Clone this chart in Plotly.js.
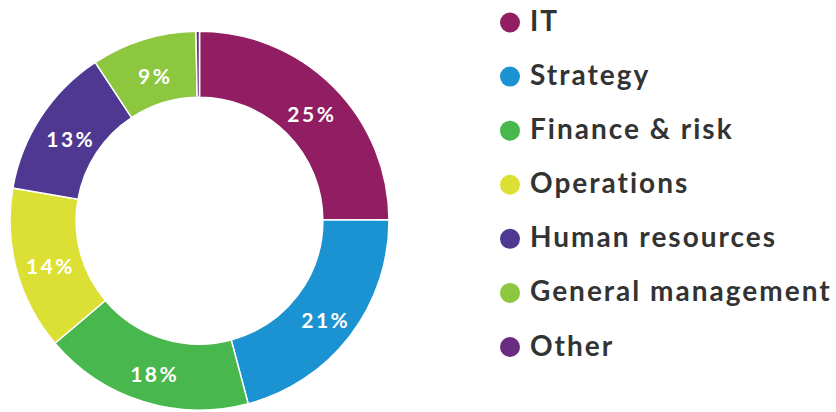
<!DOCTYPE html>
<html>
<head>
<meta charset="utf-8">
<script src="https://cdn.plot.ly/plotly-3.0.1.min.js"></script>
<style>
  html, body { margin: 0; padding: 0; background: #fff; }
  #chart { width: 836px; height: 412px; }
  .slicetext { letter-spacing: 2.5px; translate: 2px 4px; }
  .textpoint text { letter-spacing: 2px; }
</style>
</head>
<body>
<div id="chart"></div>
<script>
// ---- data ----
const categories = ["IT", "Strategy", "Finance & risk", "Operations", "Human resources", "General management", "Other"];
const shares = [25, 21, 18, 14, 13, 9, 0.3];
const sliceLabels = ["25%", "21%", "18%", "14%", "13%", "9%", ""];
const colors = ["#911E62", "#1B92D1", "#48B74D", "#DCE034", "#4E3891", "#8DC63F", "#6A2C80"];

// ---- chart ----
const rowIndex = categories.map((_, i) => i);

const pie = {
  type: "pie",
  labels: categories,
  values: shares,
  text: sliceLabels,
  texttemplate: "%{text}",
  textinfo: "text",
  sort: false,
  direction: "clockwise",
  rotation: 0,
  hole: 0.651,
  textposition: "inside",
  insidetextorientation: "horizontal",
  insidetextfont: { family: "Lato", size: 21, color: "#ffffff", weight: "bold" },
  marker: { colors: colors, line: { color: "#ffffff", width: 1.5 } },
  domain: { x: [10 / 836, 389 / 836], y: [1.8 / 412, 380.8 / 412] },
  showlegend: false,
  hoverinfo: "label+percent"
};

const legendDots = {
  type: "scatter",
  mode: "markers",
  x: rowIndex.map(() => 0),
  y: rowIndex,
  marker: { size: 20, color: colors, symbol: "circle" },
  xaxis: "x",
  yaxis: "y",
  showlegend: false,
  hoverinfo: "skip"
};

const legendText = {
  type: "scatter",
  mode: "text",
  x: rowIndex.map(() => 20),
  y: rowIndex,
  text: categories,
  textposition: "middle right",
  textfont: { family: "Lato", size: 28, color: "#333333", weight: "bold" },
  xaxis: "x",
  yaxis: "y2",
  showlegend: false,
  hoverinfo: "skip"
};

const layout = {
  width: 836,
  height: 412,
  margin: { l: 0, r: 0, t: 0, b: 0, pad: 0 },
  paper_bgcolor: "#ffffff",
  plot_bgcolor: "rgba(0,0,0,0)",
  showlegend: false,
  xaxis: { range: [-510, 326], visible: false, fixedrange: true, domain: [0, 1] },
  yaxis: { range: [7.202, -0.416], visible: false, fixedrange: true, domain: [0, 1] },
  yaxis2: { range: [7.174, -0.4438], visible: false, fixedrange: true, overlaying: "y", domain: [0, 1] }
};

Plotly.newPlot("chart", [pie, legendDots, legendText], layout, { displayModeBar: false, staticPlot: true });
</script>
</body>
</html>
